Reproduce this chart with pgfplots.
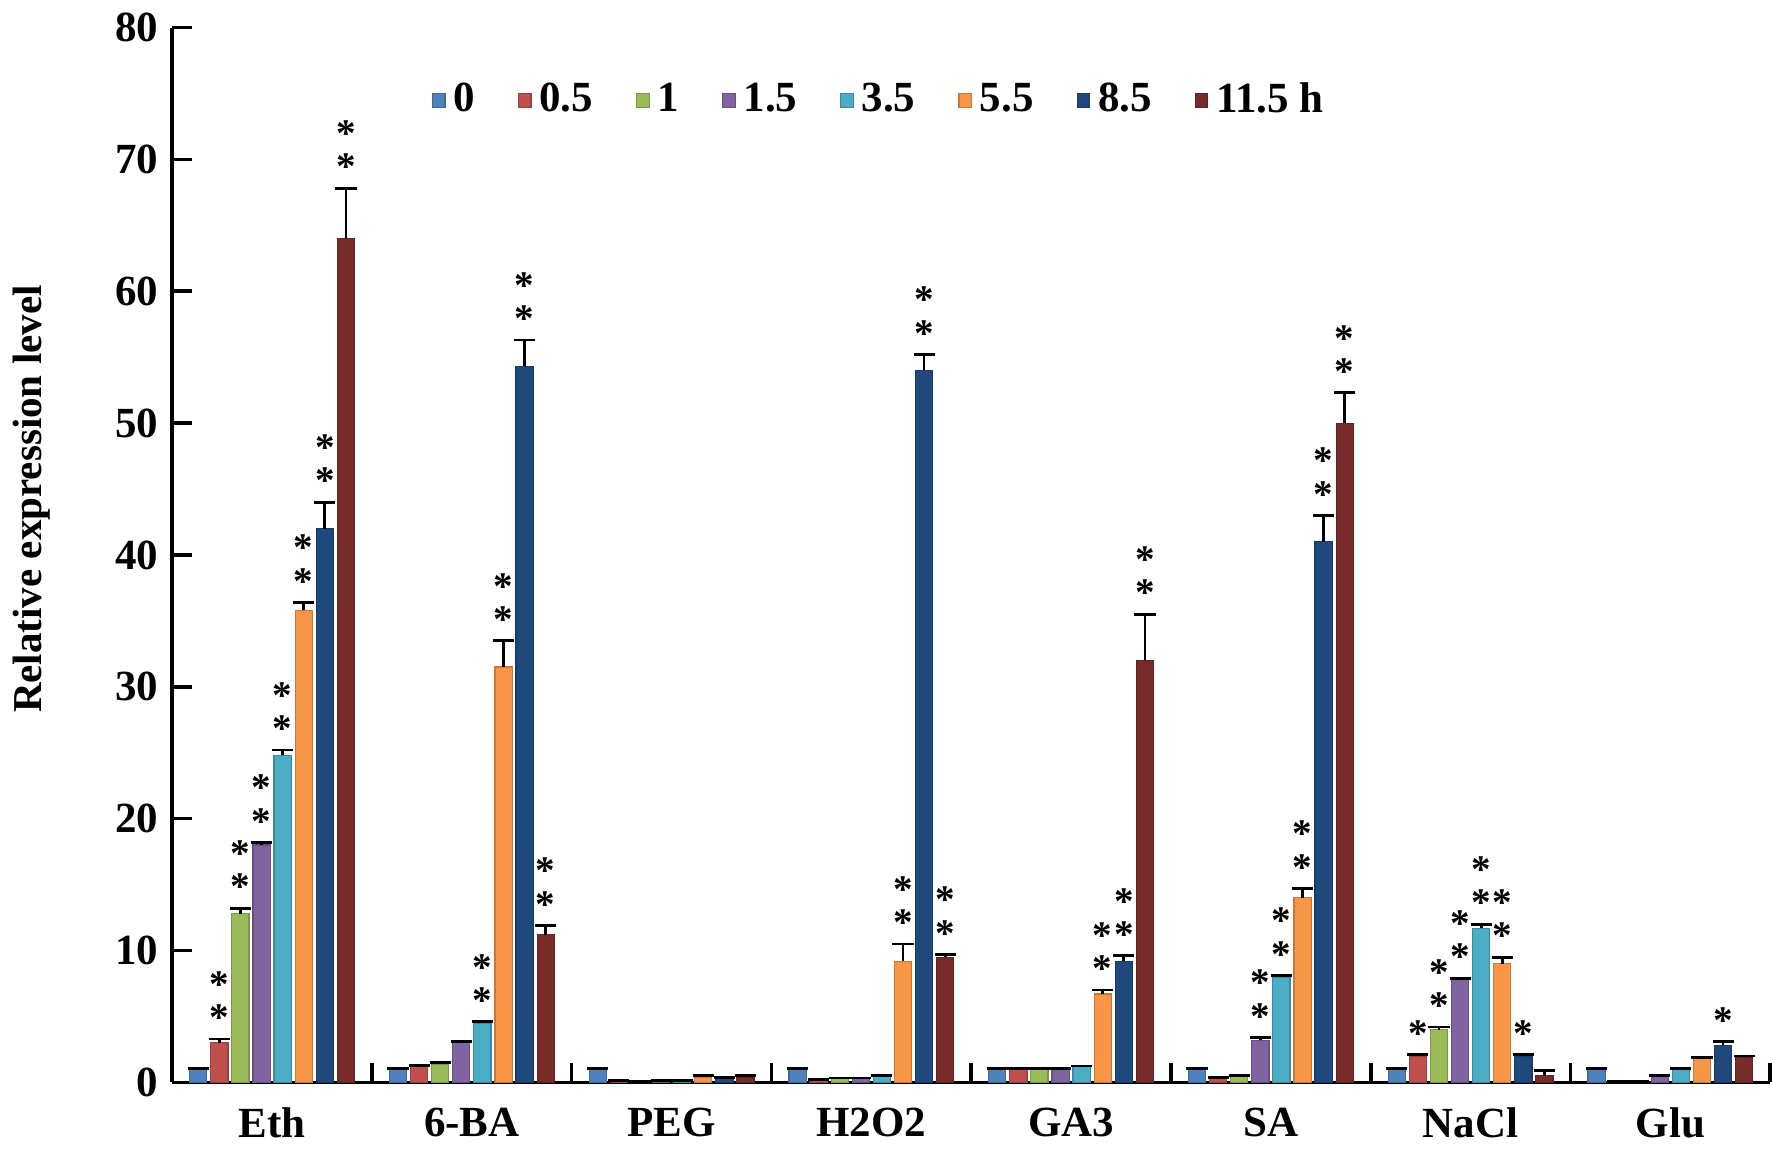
\documentclass[border=0pt]{standalone}
\usepackage{fontspec}
\setmainfont{Liberation Serif}
\usepackage{pgfplots}
\pgfplotsset{compat=1.18}
\usepackage{pgfplotstable}

\definecolor{c0}{HTML}{4F81BD}
\definecolor{c1}{HTML}{C0504D}
\definecolor{c2}{HTML}{9BBB59}
\definecolor{c3}{HTML}{8064A2}
\definecolor{c4}{HTML}{4BACC6}
\definecolor{c5}{HTML}{F79646}
\definecolor{c6}{HTML}{1F497D}
\definecolor{c7}{HTML}{772C2A}

% groups: 0 Eth, 1 6-BA, 2 PEG, 3 H2O2, 4 GA3, 5 SA, 6 NaCl, 7 Glu
% st = number of significance stars
\pgfplotstableread{
x y ey st
0 1.0 0.05 0
1 1.0 0.05 0
2 1.0 0.05 0
3 1.0 0.05 0
4 1.0 0.05 0
5 1.0 0.05 0
6 1.0 0.05 0
7 1.0 0.05 0
}\tA
\pgfplotstableread{
x y ey st
0 3.0 0.3 2
1 1.2 0.1 0
2 0.1 0.02 0
3 0.2 0.02 0
4 1.0 0.05 0
5 0.3 0.05 0
6 2.0 0.1 1
7 0.05 0.01 0
}\tB
\pgfplotstableread{
x y ey st
0 12.8 0.4 2
1 1.4 0.1 0
2 0.05 0.01 0
3 0.3 0.03 0
4 1.0 0.05 0
5 0.5 0.05 0
6 4.0 0.2 2
7 0.05 0.01 0
}\tC
\pgfplotstableread{
x y ey st
0 18.0 0.2 2
1 3.0 0.1 0
2 0.1 0.02 0
3 0.3 0.03 0
4 1.0 0.05 0
5 3.2 0.2 2
6 7.8 0.1 2
7 0.5 0.05 0
}\tD
\pgfplotstableread{
x y ey st
0 24.8 0.4 2
1 4.5 0.1 2
2 0.1 0.02 0
3 0.5 0.05 0
4 1.2 0.05 0
5 8.0 0.1 2
6 11.7 0.3 2
7 1.0 0.05 0
}\tE
\pgfplotstableread{
x y ey st
0 35.8 0.6 2
1 31.5 2.0 2
2 0.4 0.1 0
3 9.2 1.3 2
4 6.7 0.3 2
5 14.0 0.7 2
6 9.0 0.5 2
7 1.8 0.1 0
}\tF
\pgfplotstableread{
x y ey st
0 42.0 2.0 2
1 54.3 2.0 2
2 0.3 0.1 0
3 54.0 1.2 2
4 9.2 0.4 2
5 41.0 2.0 2
6 2.0 0.1 1
7 2.8 0.3 1
}\tG
\pgfplotstableread{
x y ey st
0 64.0 3.8 2
1 11.2 0.7 2
2 0.4 0.1 0
3 9.5 0.2 2
4 32.0 3.5 2
5 50.0 2.3 2
6 0.5 0.4 0
7 1.9 0.1 0
}\tH

\newcommand{\bars}[2]{\addplot[fill=#1, draw=#1!80!black, line width=0.3pt,
  error bars/.cd, y dir=plus, y explicit,
  error bar style={black, line width=0.7pt},
  error mark options={black, line width=0.7pt, mark size=2.7pt, rotate=90}]
  table[x=x, y=y, y error=ey, meta=st] {#2};}

\newcommand{\starsfor}[1]{\ifcase#1\relax\or *\or *\\*\fi}

\begin{document}
\begin{tikzpicture}
\begin{axis}[
  scale only axis,
  width=409pt, height=270pt,
  ybar=1pt, bar width=4.4pt,
  xmin=-0.5, xmax=7.5, ymin=0, ymax=80,
  enlargelimits=false,
  axis x line*=bottom, axis y line*=left,
  axis line style={black, line width=0.9pt},
  tick style={black, line width=0.9pt},
  tick align=inside,
  major tick length=5pt,
  xtick={-0.5,0.5,...,7.5},
  x tick label as interval,
  xticklabels={Eth,6-BA,PEG,H2O2,GA3,SA,NaCl,Glu},
  xticklabel style={font=\fontsize{11}{11}\selectfont\bfseries, yshift=-3pt},
  ytick={0,10,...,80},
  /pgf/number format/assume math mode=true,
  yticklabel style={font=\fontsize{11}{11}\selectfont\bfseries},
  ylabel={Relative expression level},
  ylabel style={font=\fontsize{10.5}{10.5}\selectfont\bfseries, at={(axis description cs:-0.088,0.553)}, anchor=center},
  point meta=explicit symbolic,
  visualization depends on={\thisrow{ey}\as\errY},
  nodes near coords={\starsfor{\pgfplotspointmeta}},
  every node near coord/.append style={align=center, anchor=south, inner sep=0pt,
    font=\fontsize{10}{8.5}\selectfont\bfseries, yshift={\errY*3.375pt+2pt}},
  legend columns=8,
  legend style={at={(0.444,0.931)}, anchor=center, draw=none, fill=none,
    font=\fontsize{11}{11}\selectfont\bfseries,
    /tikz/every even column/.append style={column sep=9pt}},
  legend image code/.code={\fill[#1] (0pt,-1.8pt) rectangle (3.2pt,1.8pt);},
]
\bars{c0}{\tA}
\bars{c1}{\tB}
\bars{c2}{\tC}
\bars{c3}{\tD}
\bars{c4}{\tE}
\bars{c5}{\tF}
\bars{c6}{\tG}
\bars{c7}{\tH}
\legend{0,0.5,1,1.5,3.5,5.5,8.5,11.5 h}
\end{axis}
\end{tikzpicture}
\end{document}
